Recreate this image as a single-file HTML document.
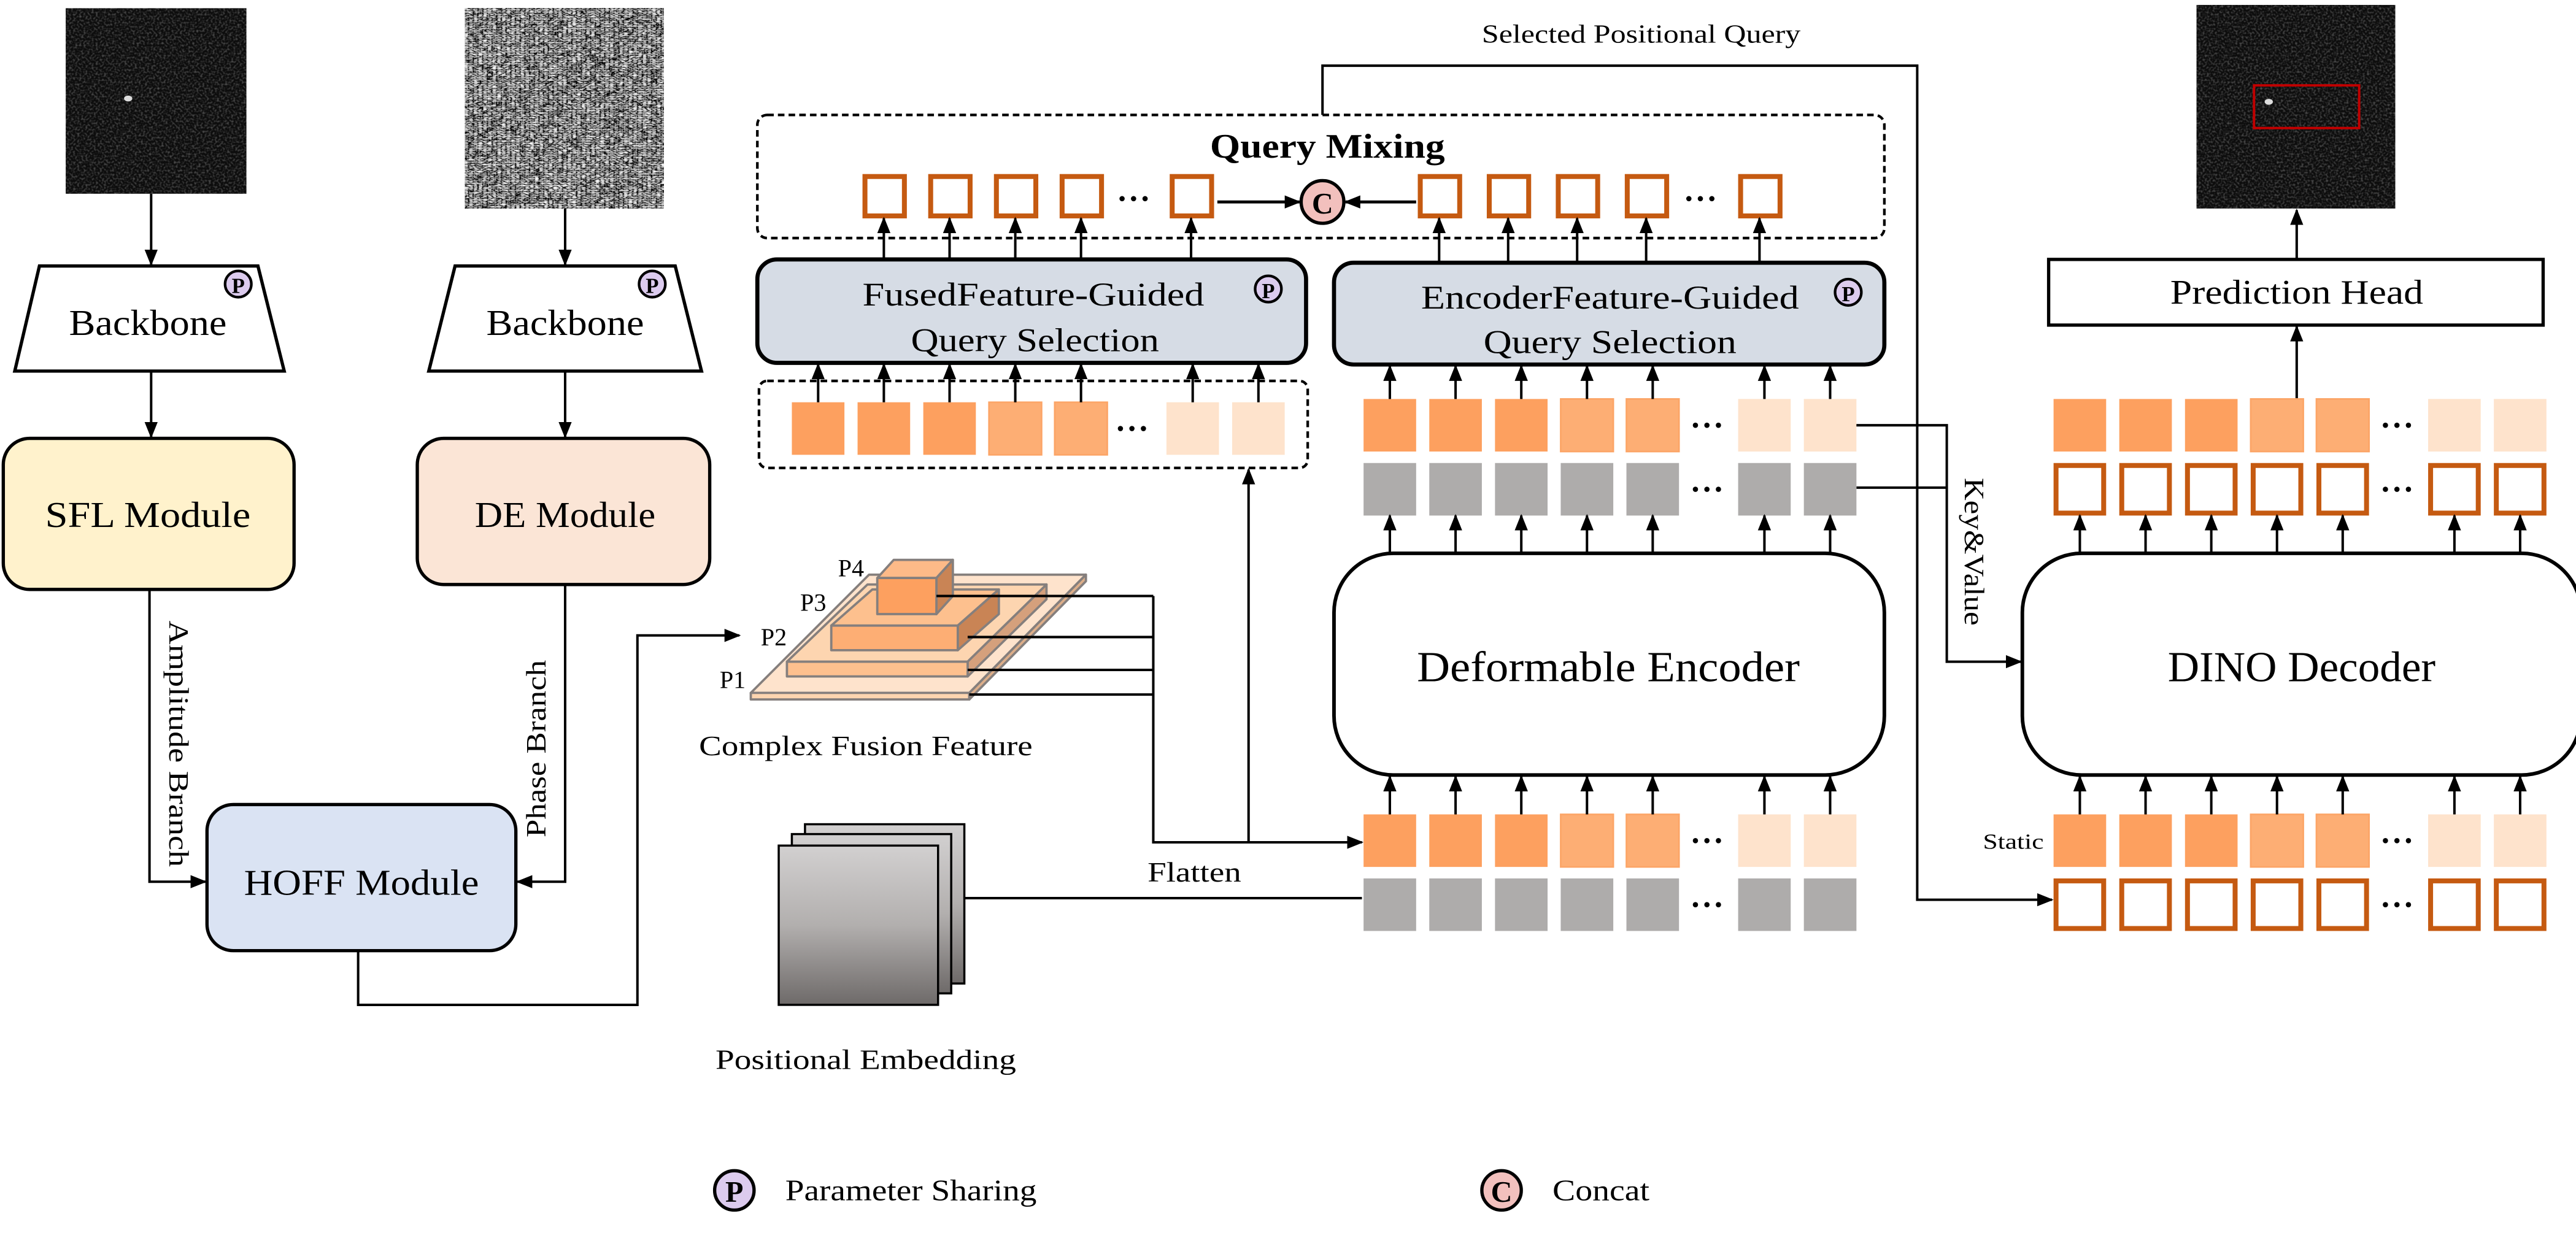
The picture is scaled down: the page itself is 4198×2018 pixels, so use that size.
<!DOCTYPE html>
<html><head><meta charset="utf-8"><style>
html,body{margin:0;padding:0;background:#fff;}
svg{display:block;}
svg text{font-family:"Liberation Serif","Times New Roman","DejaVu Serif",serif;fill:#000;}
</style></head><body>
<svg id="fig" width="4198" height="2018" viewBox="0 0 1568 754" preserveAspectRatio="none" font-family="Liberation Serif, Times New Roman, serif" xmlns="http://www.w3.org/2000/svg">
<defs>
<marker id="ah" markerWidth="10" markerHeight="10" refX="9" refY="5" orient="auto" markerUnits="userSpaceOnUse"><path d="M0,1 L10,5 L0,9 Z" fill="#000"/></marker>
<linearGradient id="pg" x1="0" y1="0" x2="0" y2="1"><stop offset="0" stop-color="#d2d0d0"/><stop offset="0.5" stop-color="#b2afae"/><stop offset="1" stop-color="#6e6a69"/></linearGradient>
<filter id="noise" x="0" y="0" width="100%" height="100%"><feTurbulence type="turbulence" baseFrequency="0.35 0.7" numOctaves="2" seed="3"/><feColorMatrix type="matrix" values="1.2 0.6 0.6 0 -0.35  1.2 0.6 0.6 0 -0.35  1.2 0.6 0.6 0 -0.35  0 0 0 0 1"/></filter>
<filter id="speck" x="0" y="0" width="100%" height="100%"><feTurbulence type="fractalNoise" baseFrequency="0.8" numOctaves="1" seed="7"/><feColorMatrix type="matrix" values="0 0 0 0 1  0 0 0 0 1  0 0 0 0 1  1.6 0 0 0 -0.7"/></filter>
</defs>

<g>
<rect x="40" y="5" width="110" height="113" fill="#0d0d0d"/>
<rect x="40" y="5" width="110" height="113" filter="url(#speck)" opacity="0.45"/>
<ellipse cx="78" cy="60" rx="2.5" ry="1.8" fill="#ddd"/>
</g>
<g>
<rect x="283" y="5" width="121" height="122" fill="#888"/>
<rect x="283" y="5" width="121" height="122" filter="url(#noise)"/>
</g>

<line x1="92" y1="118" x2="92" y2="161" stroke="#000" stroke-width="1.5" marker-end="url(#ah)"/>
<line x1="344" y1="127" x2="344" y2="161" stroke="#000" stroke-width="1.5" marker-end="url(#ah)"/>

<g>
<polygon points="24,162 157,162 173,226 9,226" fill="#fff" stroke="#000" stroke-width="2"/>
<text x="90" y="204" font-size="22" text-anchor="middle" textLength="96" lengthAdjust="spacingAndGlyphs">Backbone</text>
<circle cx="145" cy="173" r="8" fill="#dccbee" stroke="#000" stroke-width="1.6"/><text x="145" y="178.5" font-size="13" font-weight="bold" text-anchor="middle">P</text>
</g>
<g>
<polygon points="277,162 411,162 427,226 261,226" fill="#fff" stroke="#000" stroke-width="2"/>
<text x="344" y="204" font-size="22" text-anchor="middle" textLength="96" lengthAdjust="spacingAndGlyphs">Backbone</text>
<circle cx="397" cy="173" r="8" fill="#dccbee" stroke="#000" stroke-width="1.6"/><text x="397" y="178.5" font-size="13" font-weight="bold" text-anchor="middle">P</text>
</g>

<line x1="92" y1="226" x2="92" y2="266" stroke="#000" stroke-width="1.5" marker-end="url(#ah)"/>
<line x1="344" y1="226" x2="344" y2="266" stroke="#000" stroke-width="1.5" marker-end="url(#ah)"/>

<g>
<rect x="2" y="267" width="177" height="92" rx="16" fill="#fff2cc" stroke="#000" stroke-width="2"/>
<text x="90" y="321" font-size="22" text-anchor="middle" textLength="125" lengthAdjust="spacingAndGlyphs">SFL Module</text></g>
<g>
<rect x="254" y="267" width="178" height="89" rx="16" fill="#fbe5d6" stroke="#000" stroke-width="2"/>
<text x="344" y="321" font-size="22" text-anchor="middle" textLength="110" lengthAdjust="spacingAndGlyphs">DE Module</text></g>

<polyline points="91,359 91,537 125,537" fill="none" stroke="#000" stroke-width="1.5" marker-end="url(#ah)"/>
<polyline points="344,356 344,537 315,537" fill="none" stroke="#000" stroke-width="1.5" marker-end="url(#ah)"/>
<text transform="translate(103,378) rotate(90)" font-size="17" textLength="150" lengthAdjust="spacingAndGlyphs">Amplitude Branch</text>
<text transform="translate(332,510) rotate(-90)" font-size="17" textLength="108" lengthAdjust="spacingAndGlyphs">Phase Branch</text>

<g>
<rect x="126" y="490" width="188" height="89" rx="16" fill="#dae3f3" stroke="#000" stroke-width="2"/>
<text x="220" y="545" font-size="22" text-anchor="middle" textLength="143" lengthAdjust="spacingAndGlyphs">HOFF Module</text></g>

<polyline points="218,579 218,612 388,612 388,387 450,387" fill="none" stroke="#000" stroke-width="1.5" marker-end="url(#ah)"/>

<g stroke="#857f7d" stroke-width="1.4" stroke-linejoin="round">
<polygon points="457,422 529,350 661,350 590,422" fill="#fee3cc"/>
<polygon points="457,422 590,422 590,426 457,426" fill="#fdd5b0"/>
<polygon points="590,422 661,350 661,354 590,426" fill="#dcae8a"/>
<polygon points="479,403 528,356 637,356 589,403" fill="#fdd5b0"/>
<polygon points="589,403 637,356 637,365 589,412" fill="#d5a07c"/>
<rect x="479" y="403" width="110" height="9" fill="#fdc08e"/>
<polygon points="506,381 531,359 608,359 583,381" fill="#fdc08e"/>
<polygon points="583,381 608,359 608,374 583,396" fill="#c98455"/>
<rect x="506" y="381" width="77" height="15" fill="#fdae74"/>
<polygon points="534,352 544,341 580,341 570,352" fill="#fdba88"/>
<polygon points="570,352 580,341 580,363 570,374" fill="#c98455"/>
<rect x="534" y="352" width="36" height="22" fill="#fda05f"/>
</g>
<text x="518" y="351" font-size="15" text-anchor="middle">P4</text>
<text x="495" y="372" font-size="15" text-anchor="middle">P3</text>
<text x="471" y="393" font-size="15" text-anchor="middle">P2</text>
<text x="446" y="419" font-size="15" text-anchor="middle">P1</text>
<text x="527" y="460" font-size="17" text-anchor="middle" textLength="203" lengthAdjust="spacingAndGlyphs">Complex Fusion Feature</text>

<g stroke="#000" stroke-width="1.5" fill="none">
<line x1="570" y1="363" x2="702" y2="363"/>
<line x1="589" y1="388" x2="702" y2="388"/>
<line x1="589" y1="408" x2="702" y2="408"/>
<line x1="590" y1="423" x2="702" y2="423"/>
<polyline points="702,363 702,513 829,513" marker-end="url(#ah)"/>
<polyline points="760,513 760,286" marker-end="url(#ah)"/>
</g>
<text x="727" y="537" font-size="17" text-anchor="middle" textLength="57" lengthAdjust="spacingAndGlyphs">Flatten</text>

<g stroke="#000" stroke-width="1.3">
<rect x="490" y="502" width="97" height="97" fill="url(#pg)"/>
<rect x="482" y="508" width="97" height="97" fill="url(#pg)"/>
<rect x="474" y="515" width="97" height="97" fill="url(#pg)"/>
</g>
<line x1="587" y1="547" x2="829" y2="547" stroke="#000" stroke-width="1.5"/>
<text x="527" y="651" font-size="17" text-anchor="middle" textLength="183" lengthAdjust="spacingAndGlyphs">Positional Embedding</text>

<g>
<rect x="812" y="337" width="335" height="135" rx="36" fill="#fff" stroke="#000" stroke-width="2.2"/>
<text x="979" y="415" font-size="26" text-anchor="middle" textLength="233" lengthAdjust="spacingAndGlyphs">Deformable Encoder</text></g>
<g>
<rect x="1231" y="337" width="340" height="135" rx="36" fill="#fff" stroke="#000" stroke-width="2.2"/>
<text x="1401" y="415" font-size="26" text-anchor="middle" textLength="163" lengthAdjust="spacingAndGlyphs">DINO Decoder</text></g>

<g>
<rect x="461" y="158" width="334" height="63" rx="12" fill="#d6dce5" stroke="#000" stroke-width="2.5"/>
<text x="629" y="186" font-size="20" text-anchor="middle" textLength="208" lengthAdjust="spacingAndGlyphs">FusedFeature-Guided</text>
<text x="630" y="214" font-size="20" text-anchor="middle" textLength="151" lengthAdjust="spacingAndGlyphs">Query Selection</text>
<circle cx="772" cy="176" r="8" fill="#dccbee" stroke="#000" stroke-width="1.6"/><text x="772" y="181.5" font-size="13" font-weight="bold" text-anchor="middle">P</text></g>
<g>
<rect x="812" y="160" width="335" height="62" rx="12" fill="#d6dce5" stroke="#000" stroke-width="2.5"/>
<text x="980" y="188" font-size="20" text-anchor="middle" textLength="230" lengthAdjust="spacingAndGlyphs">EncoderFeature-Guided</text>
<text x="980" y="215" font-size="20" text-anchor="middle" textLength="154" lengthAdjust="spacingAndGlyphs">Query Selection</text>
<circle cx="1125" cy="178" r="8" fill="#dccbee" stroke="#000" stroke-width="1.6"/><text x="1125" y="183.5" font-size="13" font-weight="bold" text-anchor="middle">P</text></g>

<rect x="462" y="232" width="334" height="53" rx="5" fill="none" stroke="#000" stroke-width="1.6" stroke-dasharray="4,2.5"/>
<rect x="461" y="70" width="686" height="75" rx="6" fill="none" stroke="#000" stroke-width="1.6" stroke-dasharray="4,2.5"/>
<text x="808" y="96" font-size="21" font-weight="bold" text-anchor="middle" textLength="143" lengthAdjust="spacingAndGlyphs">Query Mixing</text>

<g>
<ellipse cx="805" cy="123" rx="13" ry="13" fill="#f2c0bd" stroke="#000" stroke-width="2"/>
<text x="805" y="130" font-size="18" font-weight="bold" text-anchor="middle">C</text></g>
<line x1="741" y1="123" x2="791" y2="123" stroke="#000" stroke-width="1.8" marker-end="url(#ah)"/>
<line x1="862" y1="123" x2="819" y2="123" stroke="#000" stroke-width="1.8" marker-end="url(#ah)"/>
<text x="999" y="26" font-size="16" text-anchor="middle" textLength="194" lengthAdjust="spacingAndGlyphs">Selected Positional Query</text>

<g stroke="#000" stroke-width="1.5" fill="none">
<polyline points="805,70 805,40 1167,40 1167,548 1249,548" marker-end="url(#ah)"/>
</g>
<g stroke="#000" stroke-width="1.5" fill="none">
<polyline points="1128,259 1185,259 1185,403 1230,403" marker-end="url(#ah)"/>
<line x1="1130" y1="297" x2="1185" y2="297"/>
</g>
<text transform="translate(1196,291) rotate(90)" font-size="17" textLength="90" lengthAdjust="spacingAndGlyphs">Key&amp;Value</text>
<text x="1244" y="517" font-size="13" text-anchor="end" textLength="37" lengthAdjust="spacingAndGlyphs">Static</text>

<g>
<rect x="1247" y="158" width="301" height="40" fill="#fff" stroke="#000" stroke-width="2"/>
<text x="1398" y="185" font-size="21" text-anchor="middle" textLength="154" lengthAdjust="spacingAndGlyphs">Prediction Head</text></g>
<line x1="1398" y1="243" x2="1398" y2="199" stroke="#000" stroke-width="1.5" marker-end="url(#ah)"/>
<line x1="1398" y1="158" x2="1398" y2="128" stroke="#000" stroke-width="1.5" marker-end="url(#ah)"/>
<g>
<rect x="1337" y="3" width="121" height="124" fill="#0d0d0d"/>
<rect x="1337" y="3" width="121" height="124" filter="url(#speck)" opacity="0.45"/>
<ellipse cx="1381" cy="62" rx="2.5" ry="1.8" fill="#ddd"/>
<rect x="1372" y="52" width="64" height="26" fill="none" stroke="#c00000" stroke-width="1.5"/></g>

<g>
<circle cx="447" cy="725" r="12" fill="#dccbee" stroke="#000" stroke-width="2"/><text x="447" y="732" font-size="18" font-weight="bold" text-anchor="middle">P</text>
<text x="478" y="731" font-size="18" textLength="153" lengthAdjust="spacingAndGlyphs">Parameter Sharing</text>
<circle cx="914" cy="725" r="12" fill="#f2c0bd" stroke="#000" stroke-width="2"/><text x="914" y="732" font-size="18" font-weight="bold" text-anchor="middle">C</text>
<text x="945" y="731" font-size="18" textLength="59" lengthAdjust="spacingAndGlyphs">Concat</text></g>
<g id="tokens"></g>
</svg>
<script>
const shades = ['dark','dark','dark','mid','mid','light','light'];
const colOffsets = [0,40,80,120,160,228,268];
const fills = {dark:'#fda05f', mid:'#fdae74', light:'#fee3cc'};
const NS='http://www.w3.org/2000/svg';
const g=document.getElementById('tokens');
function mk(tag,attrs){const e=document.createElementNS(NS,tag);for(const k in attrs)e.setAttribute(k,attrs[k]);g.appendChild(e);return e;}
function dots(x,y){for(let i=0;i<3;i++){const d=mk('circle',{cx:x+i*7,cy:y,r:1.6,fill:'#000'});

}}
function row(x0,y,kind,name,w,h,dotsX){
 colOffsets.forEach((o,i)=>{let e;
  if(kind==='fill'){e=mk('rect',{x:x0+o,y:y,width:w,height:h,fill:fills[shades[i]]});
   if(shades[i]==='mid'){e.setAttribute('stroke','#fca567');e.setAttribute('stroke-width','1');}}
  else if(kind==='gray'){e=mk('rect',{x:x0+o,y:y,width:w,height:h,fill:'#aeacab'});}
  else {e=mk('rect',{x:x0+o+1.5,y:y+1.5,width:w-3,height:h-3,fill:'#fff',stroke:'#c55a11','stroke-width':3});}
  
  
 });
 dots(x0+(dotsX||202),y+h/2);
}
function arrows(x0,xs,y1,y2,name,w){xs.forEach(o=>{const a=mk('line',{x1:x0+o+w/2,y1:y1,x2:x0+o+w/2,y2:y2,stroke:'#000','stroke-width':1.5,'marker-end':'url(#ah)'});

});}
row(830,496,'fill','encoder-input-token',32,32);
row(830,535,'gray','encoder-input-pos-token',32,32);
arrows(830,colOffsets,496,473,'arrow-token-to-encoder',32);
row(830,243,'fill','encoder-output-token',32,32);
row(830,282,'gray','encoder-output-pos-token',32,32);
arrows(830,colOffsets,337,314,'arrow-encoder-to-token',32);
arrows(830,colOffsets,243,223,'arrow-token-to-selection',32);
row(482,245,'fill','fused-token',32,32,200);
arrows(482,colOffsets,245,222,'arrow-fused-token-to-selection',32);
row(1250,496,'fill','decoder-static-token',32,32);
row(1250,535,'outline','decoder-query-token',32,32);
arrows(1250,colOffsets,496,473,'arrow-token-to-decoder',32);
row(1250,243,'fill','decoder-output-token',32,32);
row(1250,282,'outline','decoder-output-query',32,32);
arrows(1250,colOffsets,337,314,'arrow-decoder-to-token',32);
const leftQ=[525,565,605,645,712], rightQ=[863,905,947,989,1058];
leftQ.forEach(x=>{const e=mk('rect',{x:x+1.5,y:107.5,width:24,height:24,fill:'#fff',stroke:'#c55a11','stroke-width':3});


const a=mk('line',{x1:x+13,y1:158,x2:x+13,y2:133,stroke:'#000','stroke-width':1.5,'marker-end':'url(#ah)'});

});
rightQ.forEach(x=>{const e=mk('rect',{x:x+1.5,y:107.5,width:24,height:24,fill:'#fff',stroke:'#c55a11','stroke-width':3});


const a=mk('line',{x1:x+13,y1:160,x2:x+13,y2:133,stroke:'#000','stroke-width':1.5,'marker-end':'url(#ah)'});

});
dots(683,121);dots(1028,121);
</script>
</body></html>
